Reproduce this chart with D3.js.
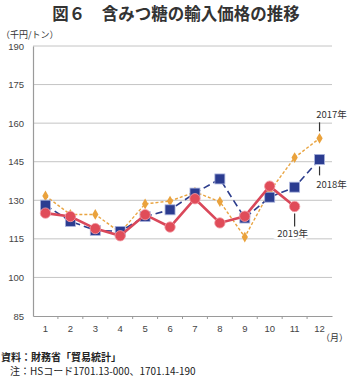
<!DOCTYPE html>
<html>
<head>
<meta charset="utf-8">
<style>
body { margin: 0; background: #fff; }
* { font-family: "Noto Sans CJK JP", "Noto Sans", sans-serif; }
</style>
</head>
<body>
<div id="chart"></div>
<script src="https://d3js.org/d3.v7.min.js"></script>
<script>
// data: import price of non-centrifugal sugar (千円/トン)
var months = [1, 2, 3, 4, 5, 6, 7, 8, 9, 10, 11, 12];
var yTicks = [85, 100, 115, 130, 145, 160, 175, 190];
var v2017 = [131.7, 124.5, 124.5, 117.5, 128.6, 129.7, 133.2, 129.5, 115.7, 133.5, 146.6, 154.1];
var v2018 = [128.1, 121.8, 118.3, 117.9, 123.7, 126.3, 132.8, 138.3, 123.1, 131.2, 135.1, 145.9];
var v2019 = [125.0, 123.7, 119.0, 116.2, 124.4, 119.6, 130.6, 121.2, 123.8, 135.5, 127.6];

var W = 350, H = 382;
var margin = { top: 46, left: 33, right: 18, bottom: 66 };

var svg = d3.select("#chart").append("svg")
  .attr("width", W).attr("height", H);

var x = d3.scaleBand().domain(months).range([margin.left, W - margin.right]);
var y = d3.scaleLinear().domain([85, 190]).range([H - margin.bottom, margin.top]);
var cx = function(m) { return x(m) + x.bandwidth() / 2; };

// title
svg.append("text")
  .attr("x", 176).attr("y", 20)
  .attr("text-anchor", "middle")
  .style("font-size", "16.5px").style("font-weight", "bold").style("fill", "#333")
  .text("図６　含みつ糖の輸入価格の推移");

svg.append("text")
  .attr("x", 1).attr("y", 38)
  .style("font-size", "9px").style("fill", "#333")
  .text("（千円/トン）");

// gridlines
svg.append("g").selectAll("line")
  .data(yTicks.slice(1))
  .enter().append("line")
  .attr("x1", margin.left).attr("x2", W - margin.right)
  .attr("y1", function(d) { return y(d); }).attr("y2", function(d) { return y(d); })
  .style("stroke", "#c4c4c4").style("stroke-width", 1);

// y axis
var yaxis = d3.axisLeft(y).tickValues(yTicks).tickSize(0).tickPadding(9);
var gy = svg.append("g")
  .attr("transform", "translate(" + margin.left + ",0)")
  .call(yaxis);
gy.select(".domain").style("stroke", "#9a9a9a").style("stroke-width", 1.2);
gy.selectAll("text").style("font-size", "9.5px").style("fill", "#444")
  .style("font-family", "'Liberation Sans', Arial, sans-serif");

// x axis
var xaxis = d3.axisBottom(x).tickSize(0).tickPadding(9);
var gx = svg.append("g")
  .attr("transform", "translate(0," + y(85) + ")")
  .call(xaxis);
gx.select(".domain").style("stroke", "#9a9a9a").style("stroke-width", 1.2);
gx.selectAll("text").style("font-size", "9.5px").style("fill", "#444")
  .style("font-family", "'Liberation Sans', Arial, sans-serif");

// small ticks at band edges
svg.append("g").selectAll("line")
  .data(months.slice(1))
  .enter().append("line")
  .attr("x1", function(d) { return x(d); }).attr("x2", function(d) { return x(d); })
  .attr("y1", y(85)).attr("y2", y(85) + 3)
  .style("stroke", "#9a9a9a");

svg.append("text")
  .attr("x", 348).attr("y", 341)
  .attr("text-anchor", "end")
  .style("font-size", "9px").style("fill", "#333")
  .text("（月）");

// series
var line = d3.line()
  .x(function(d, i) { return cx(months[i]); })
  .y(function(d) { return y(d); });

// 2017
svg.append("path").datum(v2017)
  .attr("d", line)
  .style("fill", "none").style("stroke", "#e9a440").style("stroke-width", 1.4)
  .style("stroke-dasharray", "3,2");
svg.append("g").selectAll("path")
  .data(v2017).enter().append("path")
  .attr("d", d3.symbol().type(d3.symbolDiamond).size(34))
  .attr("transform", function(d, i) { return "translate(" + cx(months[i]) + "," + y(d) + ")"; })
  .style("fill", "#eaa23c");

// 2018
svg.append("path").datum(v2018)
  .attr("d", line)
  .style("fill", "none").style("stroke", "#2c3d8c").style("stroke-width", 1.6)
  .style("stroke-dasharray", "7,4");
svg.append("g").selectAll("rect")
  .data(v2018).enter().append("rect")
  .attr("x", function(d, i) { return cx(months[i]) - 5; })
  .attr("y", function(d) { return y(d) - 5; })
  .attr("width", 10).attr("height", 10)
  .style("fill", "#2b3c90").style("stroke", "#aab4dc").style("stroke-width", 0.8);

// 2019
svg.append("path").datum(v2019)
  .attr("d", line)
  .style("fill", "none").style("stroke", "#d9485a").style("stroke-width", 2.6);
svg.append("g").selectAll("circle")
  .data(v2019).enter().append("circle")
  .attr("cx", function(d, i) { return cx(months[i]); })
  .attr("cy", function(d) { return y(d); })
  .attr("r", 5.2)
  .style("fill", "#e04c59").style("stroke", "#f2a0a8").style("stroke-width", 0.8);

// series labels
var labels = [
  { text: "2017年", lx: cx(12), y1: y(154.1) - 7, y2: y(154.1) - 16, tx: cx(12) + 12, ty: y(154.1) - 20 },
  { text: "2018年", lx: cx(12), y1: y(145.9) + 7, y2: y(145.9) + 16, tx: cx(12) + 12, ty: y(145.9) + 29 },
  { text: "2019年", lx: cx(11), y1: y(127.6) + 7, y2: y(127.6) + 20, tx: cx(11) - 2, ty: y(127.6) + 31 }
];
labels.forEach(function(l) {
  svg.append("line")
    .attr("x1", l.lx).attr("x2", l.lx).attr("y1", l.y1).attr("y2", l.y2)
    .style("stroke", "#333").style("stroke-width", 1.2);
  svg.append("text")
    .attr("x", l.tx).attr("y", l.ty)
    .attr("text-anchor", "middle")
    .style("font-size", "9.5px").style("fill", "#333")
    .style("paint-order", "stroke").style("stroke", "#fff").style("stroke-width", 4)
    .text(l.text);
});

// source
svg.append("text")
  .attr("x", 1).attr("y", 361)
  .style("font-size", "10px").style("font-weight", "bold").style("fill", "#222")
  .text("資料：財務省「貿易統計」");
svg.append("text")
  .attr("x", 10).attr("y", 375)
  .style("font-size", "10px").style("fill", "#222")
  .text("注：HSコード1701.13-000、1701.14-190");
</script>
</body>
</html>
